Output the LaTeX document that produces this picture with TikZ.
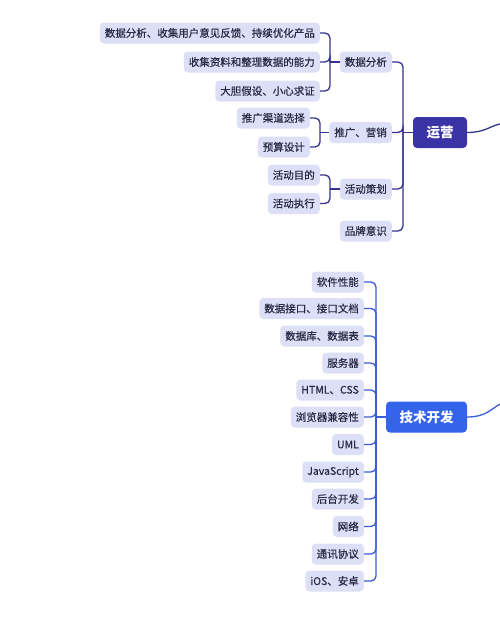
\documentclass[tikz,border=0pt]{standalone}
\usepackage{fontspec}
\setmainfont{Noto Sans CJK SC}
\newfontfamily\leaffont[FakeBold=0.6]{Noto Sans CJK SC}
\usetikzlibrary{calc}
\definecolor{leaffill}{HTML}{DDDFF6}
\definecolor{leaftext}{HTML}{2A2A48}
\definecolor{opcol}{HTML}{3A34A6}
\definecolor{oplinecol}{HTML}{37338F}
\definecolor{techcol}{HTML}{3563EA}
\definecolor{techlinecol}{HTML}{3A5BD6}
\tikzset{
  leaf/.style={fill=leaffill, text=leaftext, rounded corners=4pt, inner xsep=5pt, inner ysep=0pt,
    minimum height=21pt, font=\leaffont\fontsize{10.5pt}{12pt}\selectfont, anchor=east},
  mainbox/.style={rounded corners=4pt, text=white, inner xsep=13pt, inner ysep=0pt,
    minimum height=31pt, font=\fontsize{13.5pt}{15pt}\selectfont\bfseries},
  opline/.style={draw=oplinecol, line width=1.3pt, rounded corners=5pt},
  techline/.style={draw=techlinecol, line width=1.3pt, rounded corners=5pt},
}
\begin{document}
\begin{tikzpicture}[x=1pt,y=-1pt]
\useasboundingbox (0,0) rectangle (500,627);
% ---------- 运营 ----------
\node[mainbox, fill=opcol, minimum width=54pt, inner xsep=0pt] (op) at (440,132.5) {运营};
\coordinate (opend) at (500,124);
\draw[opline] (op.east) .. controls (485,132.5) and (490,126) .. (opend);

\node[leaf] (s1) at (392,62) {数据分析};
\node[leaf] (s2) at (392,132.5) {推广、营销};
\node[leaf] (s3) at (392,189) {活动策划};
\node[leaf] (s4) at (392,231) {品牌意识};

\coordinate (opj) at (403,132.5);
\foreach \n in {s1,s2,s3,s4}{
  \draw[opline] (\n.east) -| (opj);
}
\draw[opline] (opj) -- (op.west);

% leaves of 数据分析
\node[leaf] (a1) at (320,33) {数据分析、收集用户意见反馈、持续优化产品};
\node[leaf] (a2) at (320,62) {收集资料和整理数据的能力};
\node[leaf] (a3) at (320,91) {大胆假设、小心求证};
\coordinate (aj) at (330,62);
\foreach \n in {a1,a2,a3}{
  \draw[opline] (\n.east) -| (aj);
}
\draw[opline] (aj) -- (s1.west);
% leaves of 推广、营销
\node[leaf] (b1) at (310,118) {推广渠道选择};
\node[leaf] (b2) at (310,147) {预算设计};
\coordinate (bj) at (320,132.5);
\foreach \n in {b1,b2}{
  \draw[opline] (\n.east) -| (bj);
}
\draw[opline] (bj) -- (s2.west);
% leaves of 活动策划
\node[leaf] (c1) at (320,175) {活动目的};
\node[leaf] (c2) at (320,203.5) {活动执行};
\coordinate (cj) at (330,189);
\foreach \n in {c1,c2}{
  \draw[opline] (\n.east) -| (cj);
}
\draw[opline] (cj) -- (s3.west);

% ---------- 技术开发 ----------
\node[mainbox, fill=techcol, minimum width=81pt, inner xsep=0pt] (tech) at (426.5,417) {技术开发};
\coordinate (techend) at (500,404);
\draw[techline] (tech.east) .. controls (485,417) and (490,410) .. (techend);

\node[leaf] (t1) at (364,282) {软件性能};
\node[leaf] (t2) at (364,308.5) {数据接口、接口文档};
\node[leaf] (t3) at (364,336) {数据库、数据表};
\node[leaf] (t4) at (364,363) {服务器};
\node[leaf] (t5) at (364,390) {HTML、CSS};
\node[leaf] (t6) at (364,417) {浏览器兼容性};
\node[leaf] (t7) at (364,444.5) {UML};
\node[leaf] (t8) at (364,472) {JavaScript};
\node[leaf] (t9) at (364,499) {后台开发};
\node[leaf] (t10) at (364,526.5) {网络};
\node[leaf] (t11) at (364,554) {通讯协议};
\node[leaf] (t12) at (364,581) {iOS、安卓};
\coordinate (tj) at (376,417);
\foreach \n in {t1,t2,t3,t4,t5,t6,t7,t8,t9,t10,t11,t12}{
  \draw[techline] (\n.east) -| (tj);
}
\draw[techline] (tj) -- (tech.west);
\end{tikzpicture}
\end{document}
